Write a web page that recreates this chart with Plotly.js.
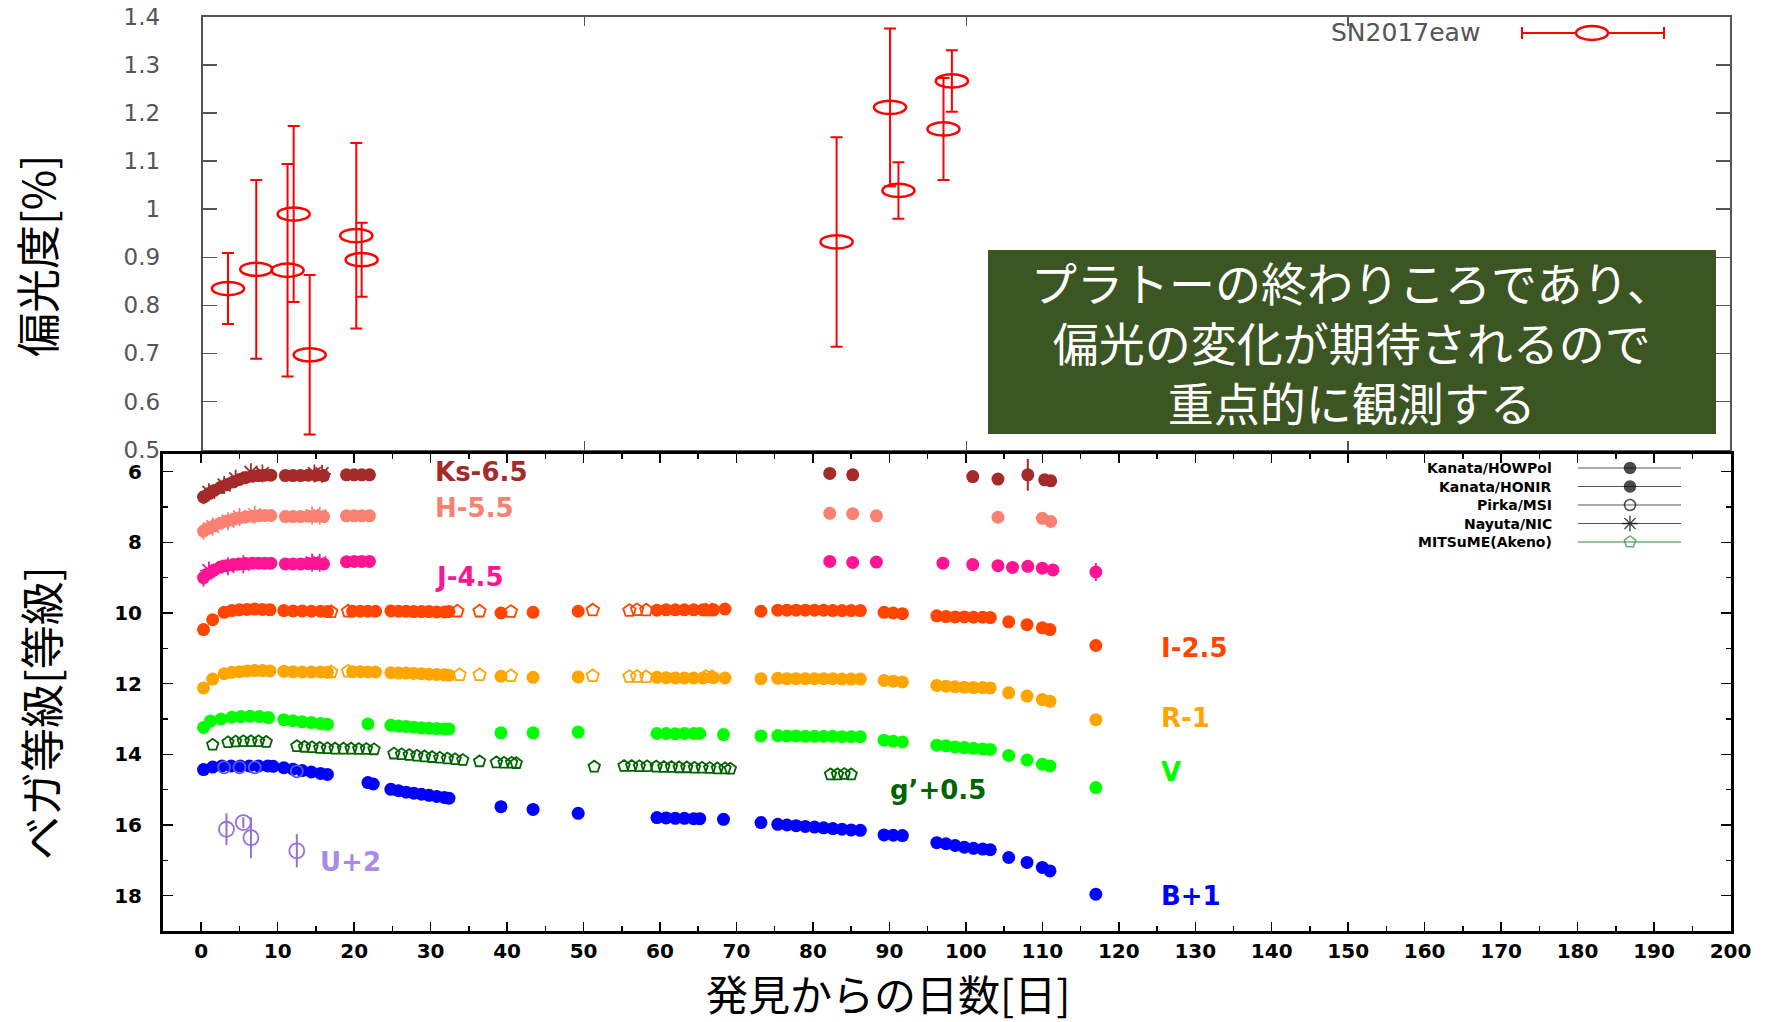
<!DOCTYPE html>
<html>
<head>
<meta charset="utf-8">
<script src="https://cdn.plot.ly/plotly-3.0.1.min.js"></script>
<style>html,body{margin:0;padding:0;background:#fff;}#chart{width:1781px;height:1022px;}</style>
</head>
<body>
<div id="chart"></div>
<script>
// ---------- Top panel: polarization ----------
const polDays = [3.3, 7.0, 11.1, 11.9, 14.0, 20.1, 20.8, 83.0, 90.0, 91.1, 97.0, 98.1];
const polVals = [0.835, 0.875, 0.873, 0.990, 0.697, 0.945, 0.895, 0.932, 1.212, 1.039, 1.167, 1.267];
const polErrs = [0.074, 0.186, 0.221, 0.183, 0.166, 0.193, 0.077, 0.218, 0.164, 0.059, 0.106, 0.064];

// ---------- Bottom panel: light curves (plotted, offset magnitudes) ----------
const nirEarlyDays = [0.3, 1.0, 1.7, 2.5, 3.3, 4.2, 5.0, 5.8, 6.7, 7.5, 8.3, 9.1, 11.0, 12.0, 13.0, 14.0, 15.0, 16.0, 19.0, 20.0, 21.0, 22.0];
const ksDays = nirEarlyDays.concat([82.2, 85.2, 100.9, 104.2, 108.1, 110.3, 111.1]);
const ksMags = [6.72, 6.62, 6.53, 6.45, 6.37, 6.29, 6.22, 6.17, 6.13, 6.11, 6.10, 6.10, 6.11, 6.11, 6.11, 6.10, 6.10, 6.11, 6.09, 6.09, 6.09, 6.09, 6.05, 6.09, 6.14, 6.21, 6.09, 6.23, 6.26];
const ksErrs = [0.2, 0, 0, 0, 0, 0, 0, 0, 0, 0, 0, 0, 0, 0, 0, 0, 0, 0, 0, 0, 0, 0, 0, 0, 0, 0, 0.45, 0, 0];
const hDays = nirEarlyDays.concat([82.2, 85.2, 88.3, 104.2, 110.0, 111.1]);
const hMags = [7.68, 7.60, 7.53, 7.46, 7.40, 7.35, 7.31, 7.28, 7.26, 7.25, 7.24, 7.24, 7.27, 7.27, 7.27, 7.26, 7.26, 7.27, 7.25, 7.25, 7.25, 7.25, 7.18, 7.19, 7.25, 7.29, 7.32, 7.41];
const hErrs = [0.25, 0, 0, 0, 0, 0, 0, 0, 0, 0, 0, 0, 0, 0, 0, 0, 0, 0, 0, 0, 0, 0, 0, 0, 0, 0, 0, 0.08];
const jDays = nirEarlyDays.concat([82.2, 85.2, 88.3, 97.0, 100.9, 104.2, 106.1, 108.1, 110.0, 111.4, 117.0]);
const jMags = [9.00, 8.88, 8.78, 8.70, 8.66, 8.63, 8.61, 8.60, 8.59, 8.59, 8.59, 8.59, 8.61, 8.61, 8.61, 8.60, 8.60, 8.61, 8.55, 8.54, 8.54, 8.54, 8.54, 8.57, 8.56, 8.59, 8.63, 8.66, 8.71, 8.68, 8.73, 8.78, 8.84];
const jErrs = [0.25, 0, 0, 0, 0, 0, 0, 0, 0, 0, 0, 0, 0, 0, 0, 0, 0, 0, 0, 0, 0, 0, 0, 0, 0, 0, 0, 0, 0, 0, 0, 0, 0.25];

// Nayuta/NIC (asterisks)
const ksNicDays = [1.0, 3.0, 4.5, 6.5, 8.0, 14.8, 15.8];
const ksNicMags = [6.58, 6.38, 6.20, 6.02, 6.05, 6.05, 6.06];
const hNicDays = [1.5, 3.5, 5.0, 7.0, 14.5, 15.5];
const hNicMags = [7.55, 7.40, 7.28, 7.22, 7.24, 7.25];
const jNicDays = [1.0, 3.5, 5.5, 14.5, 15.5];
const jNicMags = [8.80, 8.68, 8.62, 8.58, 8.58];

// Kanata optical (filled)
const optDays = [0.3, 1.5, 3.0, 4.0, 5.0, 6.0, 7.0, 8.0, 9.0, 10.8, 12.0, 13.2, 14.4, 15.6, 16.5, 19.8, 20.8, 21.8, 22.8, 24.8, 25.8, 26.8, 27.8, 28.8, 29.8, 30.8, 31.8, 32.4, 39.2, 43.4, 49.3, 59.6, 60.8, 62.0, 63.2, 64.4, 65.6, 67.0, 68.5, 73.2, 75.4, 76.6, 77.8, 79.0, 80.2, 81.4, 82.6, 83.8, 85.0, 86.2, 89.3, 90.5, 91.7, 96.2, 97.4, 98.6, 99.8, 101.0, 102.2, 103.2, 105.6, 108.0, 110.0, 111.0, 117.0];
const iMags = [10.47, 10.19, 9.98, 9.93, 9.91, 9.90, 9.89, 9.90, 9.91, 9.93, 9.94, 9.94, 9.95, 9.95, 9.96, 9.95, 9.95, 9.95, 9.95, 9.94, 9.95, 9.95, 9.96, 9.96, 9.96, 9.97, 9.97, 9.96, 10.00, 9.98, 9.95, 9.92, 9.91, 9.91, 9.91, 9.91, 9.91, 9.91, 9.89, 9.95, 9.92, 9.92, 9.92, 9.92, 9.92, 9.92, 9.93, 9.93, 9.93, 9.93, 9.98, 10.00, 10.02, 10.08, 10.10, 10.11, 10.11, 10.12, 10.12, 10.13, 10.25, 10.33, 10.42, 10.47, 10.92];
const rMags = [12.12, 11.87, 11.72, 11.68, 11.66, 11.64, 11.63, 11.63, 11.64, 11.65, 11.66, 11.67, 11.67, 11.67, 11.68, 11.66, 11.66, 11.67, 11.67, 11.69, 11.70, 11.70, 11.71, 11.72, 11.73, 11.74, 11.75, 11.76, 11.79, 11.82, 11.81, 11.82, 11.83, 11.84, 11.84, 11.84, 11.84, 11.83, 11.84, 11.86, 11.85, 11.86, 11.86, 11.86, 11.86, 11.86, 11.86, 11.87, 11.87, 11.87, 11.91, 11.93, 11.95, 12.05, 12.07, 12.09, 12.10, 12.11, 12.11, 12.12, 12.26, 12.35, 12.45, 12.50, 13.02];
const vDays = [0.3, 1.2, 2.6, 4.0, 5.2, 6.4, 7.6, 8.8, 10.8, 12.0, 13.2, 14.4, 15.6, 16.5, 21.8, 24.8, 25.8, 26.8, 27.8, 28.8, 29.8, 30.8, 31.8, 32.4, 39.2, 43.4, 49.3, 59.6, 60.8, 62.0, 63.2, 64.4, 65.2, 68.3, 73.2, 75.4, 76.6, 77.8, 79.0, 80.2, 81.4, 82.6, 83.8, 85.0, 86.2, 89.3, 90.5, 91.7, 96.2, 97.4, 98.6, 99.8, 101.0, 102.2, 103.2, 105.6, 108.0, 110.0, 111.0, 117.0];
const vMags = [13.24, 13.06, 13.00, 12.95, 12.93, 12.92, 12.93, 12.96, 13.02, 13.05, 13.08, 13.10, 13.13, 13.15, 13.14, 13.18, 13.20, 13.21, 13.23, 13.25, 13.26, 13.27, 13.28, 13.28, 13.39, 13.39, 13.37, 13.41, 13.41, 13.42, 13.41, 13.41, 13.41, 13.44, 13.48, 13.47, 13.48, 13.48, 13.49, 13.49, 13.49, 13.49, 13.50, 13.50, 13.50, 13.60, 13.63, 13.65, 13.74, 13.76, 13.79, 13.81, 13.83, 13.85, 13.86, 14.03, 14.16, 14.28, 14.33, 14.94];
const bDays = [0.3, 1.5, 2.7, 3.9, 5.1, 6.3, 7.5, 8.7, 9.4, 10.8, 12.0, 13.2, 14.4, 15.6, 16.5, 21.8, 22.5, 24.8, 25.8, 26.8, 27.8, 28.8, 29.8, 30.8, 31.8, 32.4, 39.2, 43.4, 49.3, 59.6, 60.8, 62.0, 63.2, 64.4, 65.2, 68.3, 73.2, 75.4, 76.6, 77.8, 79.0, 80.2, 81.4, 82.6, 83.8, 85.0, 86.2, 89.3, 90.5, 91.7, 96.2, 97.4, 98.6, 99.8, 101.0, 102.2, 103.2, 105.6, 108.0, 110.0, 111.0, 117.0];
const bMags = [14.43, 14.36, 14.33, 14.33, 14.33, 14.33, 14.33, 14.33, 14.34, 14.38, 14.42, 14.46, 14.50, 14.54, 14.57, 14.80, 14.84, 14.99, 15.03, 15.07, 15.10, 15.13, 15.16, 15.19, 15.22, 15.24, 15.48, 15.56, 15.67, 15.79, 15.80, 15.81, 15.81, 15.82, 15.82, 15.84, 15.93, 15.98, 16.00, 16.02, 16.04, 16.06, 16.08, 16.10, 16.12, 16.14, 16.15, 16.28, 16.29, 16.30, 16.50, 16.53, 16.58, 16.63, 16.66, 16.68, 16.70, 16.92, 17.06, 17.20, 17.30, 17.96];

// MITSuME (open pentagons)
const iPentDays = [17.0, 19.2, 33.5, 36.4, 40.5, 51.2, 56.0, 57.0, 58.2, 66.0, 66.8];
const iPentMags = [9.97, 9.95, 9.95, 9.95, 9.96, 9.92, 9.93, 9.91, 9.92, 9.92, 9.92];
const rPentDays = [17.0, 19.2, 33.8, 36.4, 40.5, 51.2, 56.0, 57.0, 58.2, 66.0, 66.8];
const rPentMags = [11.67, 11.65, 11.75, 11.75, 11.78, 11.78, 11.80, 11.80, 11.81, 11.80, 11.81];
const gDays = [1.5, 3.5, 4.5, 5.5, 6.5, 7.5, 8.5, 12.5, 13.5, 14.5, 15.5, 16.5, 17.5, 18.6, 19.6, 20.6, 21.6, 22.6, 25.2, 26.2, 27.2, 28.2, 29.2, 30.2, 31.2, 32.2, 33.2, 34.2, 36.4, 38.6, 39.6, 40.6, 41.2, 51.4, 55.3, 56.3, 57.3, 58.3, 59.5, 60.5, 61.5, 62.5, 63.5, 64.5, 65.5, 66.5, 67.5, 68.5, 69.2, 82.3, 83.2, 84.1, 85.0];
const gMags = [13.73, 13.66, 13.64, 13.63, 13.63, 13.63, 13.65, 13.77, 13.79, 13.80, 13.82, 13.83, 13.84, 13.84, 13.84, 13.85, 13.85, 13.86, 13.98, 14.00, 14.02, 14.04, 14.06, 14.08, 14.10, 14.12, 14.14, 14.16, 14.20, 14.23, 14.24, 14.24, 14.25, 14.35, 14.33, 14.33, 14.34, 14.34, 14.35, 14.36, 14.36, 14.37, 14.37, 14.38, 14.38, 14.39, 14.40, 14.40, 14.41, 14.57, 14.57, 14.56, 14.57];

// Pirka/MSI (open circles)
const bMsiDays = [3.0, 5.0, 7.0, 12.5];
const bMsiMags = [14.37, 14.37, 14.37, 14.48];
const uDays = [3.3, 5.5, 6.5, 12.5];
const uMags = [16.12, 15.93, 16.36, 16.73];
const uErrs = [0.45, 0.15, 0.58, 0.47];

// band labels and legend names
const bandLabels = ["Ks-6.5", "H-5.5", "J-4.5", "I-2.5", "R-1", "V", "g’+0.5", "B+1", "U+2"];
const legendNames = ["Kanata/HOWPol", "Kanata/HONIR", "Pirka/MSI", "Nayuta/NIC", "MITSuME(Akeno)"];

// ---------- layout helpers ----------
const W = 1781, H = 1022;
const px = v => v / W;
const py = v => 1 - v / H;

const C = {ks:'#A52A2A', h:'#FA8072', j:'#FF1493', i:'#FF4500', r:'#FFA500', v:'#00FF00', g:'#006400', b:'#0000FF', u:'#9370DB'};
const MS = 13;

function filled(x, y, color, errs) {
  const t = {type:'scatter', mode:'markers', x:x, y:y, xaxis:'x2', yaxis:'y2', hoverinfo:'skip',
    marker:{size:MS, color:color, line:{width:0}}};
  if (errs) t.error_y = {type:'data', array:errs, visible:true, color:color, thickness:2, width:0};
  return t;
}
function symTrace(x, y, color, symbol, size, errs) {
  const t = {type:'scatter', mode:'markers', x:x, y:y, xaxis:'x2', yaxis:'y2', hoverinfo:'skip',
    marker:{size:size, symbol:symbol, color:color, line:{color:color, width:1.8}}};
  if (errs) t.error_y = {type:'data', array:errs, visible:true, color:color, thickness:2, width:0};
  return t;
}

const traces = [
  {type:'scatter', mode:'markers', x:polDays, y:polVals, xaxis:'x', yaxis:'y', hoverinfo:'skip',
   marker:{size:2, color:'rgba(0,0,0,0)'},
   error_y:{type:'data', array:polErrs, visible:true, color:'#FF0000', thickness:2, width:6}},
  filled(ksDays, ksMags, C.ks, ksErrs),
  filled(hDays, hMags, C.h, hErrs),
  filled(jDays, jMags, C.j, jErrs),
  symTrace(ksNicDays, ksNicMags, C.ks, 'asterisk-open', 15),
  symTrace(hNicDays, hNicMags, C.h, 'asterisk-open', 15),
  symTrace(jNicDays, jNicMags, C.j, 'asterisk-open', 15),
  filled(optDays, iMags, C.i),
  filled(optDays, rMags, C.r),
  filled(vDays, vMags, C.v),
  filled(bDays, bMags, C.b),
  symTrace(iPentDays, iPentMags, C.i, 'pentagon-open', 13),
  symTrace(rPentDays, rPentMags, C.r, 'pentagon-open', 13),
  symTrace(gDays, gMags, C.g, 'pentagon-open', 12),
  symTrace(bMsiDays, bMsiMags, '#5A5AE6', 'circle-open', 12),
  symTrace(uDays, uMags, C.u, 'circle-open', 15, uErrs)
];

// legend markers of the lower panel (drawn on a hidden pixel-space overlay)
const legRows = [468, 486.5, 505, 523.5, 542];
traces.push({type:'scatter', mode:'markers', xaxis:'x3', yaxis:'y3', hoverinfo:'skip', cliponaxis:false,
  x:[1630, 1630, 1630, 1630, 1630], y:legRows,
  marker:{size:[11, 11, 11, 13, 12],
    symbol:['circle', 'circle', 'circle-open', 'asterisk-open', 'pentagon-open'],
    color:['#000', '#000', '#000', '#000', '#2E8B2E'],
    line:{color:['#000', '#000', '#000', '#000', '#2E8B2E'], width:1.5}}});

const shapes = [];
// polarization ellipses
polDays.forEach((d, k) => {
  shapes.push({type:'circle', xref:'x', yref:'y', x0:d - 2.1, x1:d + 2.1,
    y0:polVals[k] - 0.0138, y1:polVals[k] + 0.0138, line:{color:'#FF0000', width:2.5}});
});
// top legend sample
shapes.push({type:'line', xref:'paper', yref:'paper', x0:px(1522), x1:px(1664), y0:py(33), y1:py(33), line:{color:'#FF0000', width:2}});
shapes.push({type:'line', xref:'paper', yref:'paper', x0:px(1522), x1:px(1522), y0:py(27), y1:py(39), line:{color:'#FF0000', width:2}});
shapes.push({type:'line', xref:'paper', yref:'paper', x0:px(1664), x1:px(1664), y0:py(27), y1:py(39), line:{color:'#FF0000', width:2}});
shapes.push({type:'circle', xref:'paper', yref:'paper', x0:px(1576), x1:px(1608), y0:py(40), y1:py(26), line:{color:'#FF0000', width:2.5}, fillcolor:'#fff'});
// green text box
shapes.push({type:'rect', xref:'paper', yref:'paper', x0:px(988), x1:px(1716), y0:py(434), y1:py(250), fillcolor:'#3B5623', line:{width:0}, layer:'above'});
// lower legend sample lines
legRows.forEach((r, k) => {
  shapes.push({type:'line', xref:'paper', yref:'paper', x0:px(1578), x1:px(1681), y0:py(r), y1:py(r),
    line:{color: k === 4 ? '#2E8B2E' : '#555', width:1}, layer:'below'});
});

const annotations = [];
const boldFont = (size, color) => ({family:'DejaVu Sans, Liberation Sans, sans-serif', size:size, color:color, weight:'bold'});
const bandPos = [[433, 472, C.ks], [433, 508, C.h], [433, 577, C.j], [1159, 648, C.i], [1159, 718, C.r], [1159, 772, C.v], [888, 790, C.g], [1159, 896, C.b], [318, 862, '#A98BE6']];
bandLabels.forEach((t, k) => {
  annotations.push({text:t, xref:'paper', yref:'paper', x:px(bandPos[k][0]), y:py(bandPos[k][1]),
    xanchor:'left', yanchor:'middle', showarrow:false, font:boldFont(26, bandPos[k][2])});
});
legendNames.forEach((t, k) => {
  annotations.push({text:t, xref:'paper', yref:'paper', x:px(1553), y:py(legRows[k]), borderpad:0,
    xanchor:'right', yanchor:'middle', showarrow:false, font:boldFont(14, '#000')});
});
annotations.push({text:'SN2017eaw', xref:'paper', yref:'paper', x:px(1482), y:py(33), xanchor:'right', yanchor:'middle',
  showarrow:false, font:{family:'DejaVu Sans, sans-serif', size:25, color:'#555'}});
annotations.push({text:'プラトーの終わりころであり、<br>偏光の変化が期待されるので<br>重点的に観測する',
  xref:'paper', yref:'paper', x:px(1352), y:py(341), xanchor:'center', yanchor:'middle', showarrow:false, align:'center',
  font:{family:'Noto Sans CJK JP, sans-serif', size:46, color:'#FFFFFF'}});
annotations.push({text:'偏光度[%]', xref:'paper', yref:'paper', x:px(36), y:py(256), xanchor:'center', yanchor:'middle',
  textangle:-90, showarrow:false, font:{family:'Noto Sans CJK JP, sans-serif', size:44, color:'#000'}});
annotations.push({text:'ベガ等級[等級]', xref:'paper', yref:'paper', x:px(40), y:py(713), xanchor:'center', yanchor:'middle',
  textangle:-90, showarrow:false, font:{family:'Noto Sans CJK JP, sans-serif', size:44, color:'#000'}});
annotations.push({text:'発見からの日数[日]', xref:'paper', yref:'paper', x:px(888), y:py(992), xanchor:'center', yanchor:'middle',
  borderpad:0, showarrow:false, font:{family:'Noto Sans CJK JP, sans-serif', size:42, color:'#000'}});

const layout = {
  width:W, height:H, margin:{l:0, r:0, t:0, b:0}, paper_bgcolor:'#fff', plot_bgcolor:'rgba(0,0,0,0)', showlegend:false,
  xaxis:{domain:[px(202.8), px(1730)], range:[0, 200], anchor:'y', showticklabels:false, ticks:'inside', tick0:0, dtick:50,
    ticklen:9, tickcolor:'#555', tickwidth:1.5, showline:true, mirror:'ticks', linecolor:'#555', linewidth:2, showgrid:false, zeroline:false},
  yaxis:{domain:[py(449.5), py(17)], range:[0.5, 1.4], anchor:'x', ticks:'inside', tick0:0.5, dtick:0.1, ticklen:14, tickcolor:'#555',
    tickwidth:1.5, showline:true, mirror:'ticks', linecolor:'#555', linewidth:2, showgrid:false, zeroline:false,
    ticklabelstandoff:36, tickfont:{family:'DejaVu Sans, sans-serif', size:23, color:'#555'}},
  xaxis2:{domain:[px(163), px(1730.5)], range:[-5, 200], anchor:'y2', ticks:'inside', tick0:0, dtick:10, ticklen:9, tickwidth:1.5,
    tickcolor:'#000', minor:{ticks:'inside', dtick:5, ticklen:5, tickcolor:'#000'},
    showline:true, mirror:'ticks', linecolor:'#000', linewidth:3, showgrid:false, zeroline:false,
    ticklabelstandoff:0, tickfont:boldFont(20, '#000')},
  yaxis2:{domain:[py(931), py(454)], range:[19, 5.5], anchor:'x2', ticks:'inside', tick0:0, dtick:2, ticklen:10, tickwidth:1.5,
    tickcolor:'#000', minor:{ticks:'inside', dtick:1, ticklen:5, tickcolor:'#000'},
    showline:true, mirror:'ticks', linecolor:'#000', linewidth:3, showgrid:false, zeroline:false,
    ticklabelstandoff:14, tickfont:boldFont(20, '#000')},
  xaxis3:{domain:[0, 1], range:[0, W], anchor:'y3', visible:false, fixedrange:true},
  yaxis3:{domain:[0, 1], range:[H, 0], anchor:'x3', visible:false, fixedrange:true},
  shapes:shapes, annotations:annotations
};

Plotly.newPlot('chart', traces, layout, {staticPlot:true, displayModeBar:false});
</script>
</body>
</html>
